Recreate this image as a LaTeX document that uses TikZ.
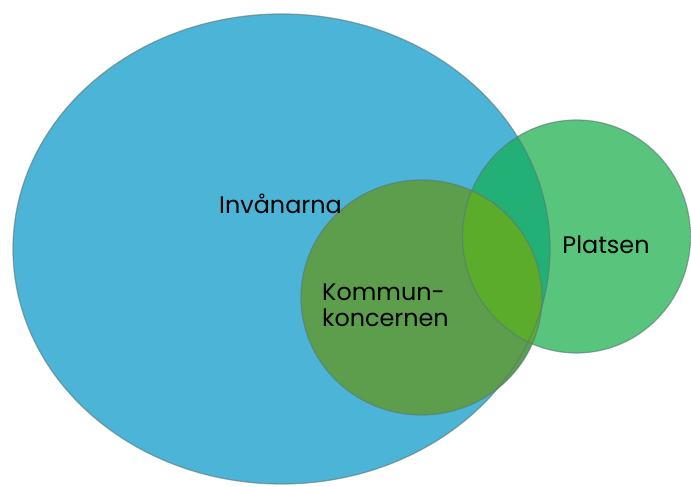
\documentclass[tikz,border=0pt]{standalone}
\usepackage{fontspec}
\setmainfont{Poppins}

\definecolor{invblue}{RGB}{76,180,214}
\definecolor{platsgreen}{RGB}{88,196,124}
\definecolor{invplats}{RGB}{34,176,118}
\definecolor{kommungreen}{RGB}{92,158,76}
\definecolor{kommunplats}{RGB}{90,172,42}
\definecolor{rim}{RGB}{90,120,120}

\tikzset{
  label/.style={font=\fontsize{13.6}{14.8}\selectfont, text=black, inner sep=0pt},
  outline/.style={draw=rim, draw opacity=0.6, line width=0.7pt}
}

\begin{document}
\begin{tikzpicture}
    \useasboundingbox (0,0) rectangle (13.82,9.74);

    % Invanarna
    \fill[invblue] (5.63,4.76) ellipse (5.37 and 4.70);

    % Platsen
    \fill[platsgreen] (11.53,5.01) ellipse (2.28 and 2.33);
    \begin{scope}
        \clip (5.63,4.76) ellipse (5.37 and 4.70);
        \fill[invplats] (11.53,5.01) ellipse (2.28 and 2.33);
    \end{scope}

    % Kommunkoncernen
    \fill[kommungreen] (8.43,3.79) ellipse (2.41 and 2.35);
    \begin{scope}
        \clip (11.53,5.01) ellipse (2.28 and 2.33);
        \fill[kommunplats] (8.43,3.79) ellipse (2.41 and 2.35);
    \end{scope}

    % outlines on top
    \draw[outline] (5.63,4.76) ellipse (5.37 and 4.70);
    \draw[outline] (11.53,5.01) ellipse (2.28 and 2.33);
    \draw[outline] (8.43,3.79) ellipse (2.41 and 2.35);

    % labels
    \node[label] (inv) at (5.61,5.66) {Invånarna};
    \node[label] (plats) at (12.12,4.84) {Platsen};
    \node[label, align=left] (kommun) at (7.71,3.64)
        {Kommun-\\koncernen};
\end{tikzpicture}
\end{document}
